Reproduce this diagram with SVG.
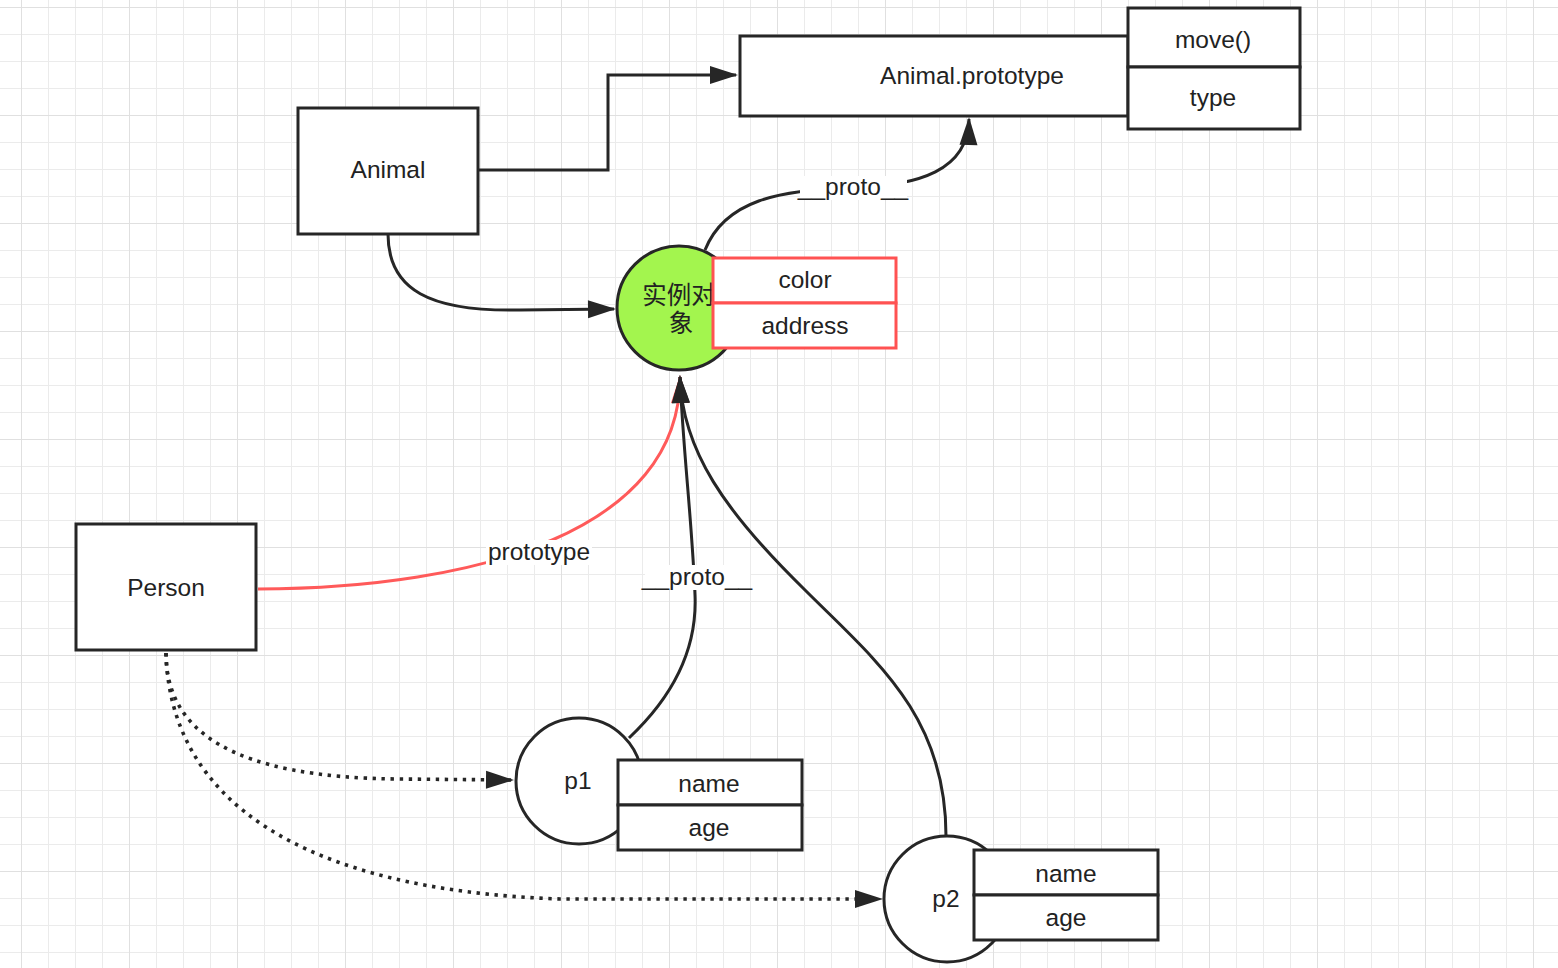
<svg xmlns="http://www.w3.org/2000/svg" width="1558" height="968" viewBox="0 0 1558 968">
<style>
.box{fill:#fff;stroke:#262626;stroke-width:3}
.rbox{fill:#fff;stroke:#ff5252;stroke-width:3}
.circ{fill:#fff;stroke:#262626;stroke-width:3}
.t{font-family:"Liberation Sans","Noto Sans CJK SC",sans-serif;font-size:24.5px;fill:#222;text-anchor:middle}
.e{fill:none;stroke:#262626;stroke-width:3}
.red{fill:none;stroke:#ff5a5a;stroke-width:3}
.dot{fill:none;stroke:#262626;stroke-width:3.6;stroke-dasharray:3.4 5.6}
.lbl{fill:#fff}
</style>
<defs>
<pattern id="minor" x="21" y="7" width="27" height="27" patternUnits="userSpaceOnUse">
<path d="M0,0 V27 M0,0 H27" fill="none" stroke="#ebebeb" stroke-width="2"/>
</pattern>
<pattern id="major" x="21" y="7" width="108" height="108" patternUnits="userSpaceOnUse">
<path d="M0,0 V108 M0,0 H108" fill="none" stroke="#e0e0e0" stroke-width="2"/>
</pattern>
<marker id="arr" markerUnits="userSpaceOnUse" markerWidth="30" markerHeight="20" refX="26" refY="9" orient="auto" overflow="visible">
<path d="M0,0 L28,9 L0,18 Z" fill="#262626"/>
</marker>
<marker id="arrR" markerUnits="userSpaceOnUse" markerWidth="30" markerHeight="20" refX="26" refY="9" orient="auto" overflow="visible">
<path d="M0,0 L28,9 L0,18 Z" fill="#ff5a5a"/>
</marker>
</defs>
<rect width="1558" height="968" fill="#fff"/>
<rect width="1558" height="968" fill="url(#minor)"/>
<rect width="1558" height="968" fill="url(#major)"/>

<g id="connectors">
<path class="red" d="M258,589 C480,588 680,530 680,377" marker-end="url(#arrR)"/>
<path class="e" d="M478,170 H608 V75 H736" marker-end="url(#arr)"/>
<path class="e" d="M388,234 C388,290 430,312 520,310 L614,309" marker-end="url(#arr)"/>
<path class="e" d="M705,250 C725,200 780,190 850,188 C920,186 968,170 969,119" marker-end="url(#arr)"/>
<path class="e" d="M629,738 C680,690 697,640 695,595 C692,520 683,450 680,377" marker-end="url(#arr)"/>
<path class="e" d="M946,836 C946,715 875,660 805,590 C725,512 682,450 680,377" marker-end="url(#arr)"/>
<path class="dot" d="M166,653 C166,730 230,778 400,779 L512,780" marker-end="url(#arr)"/>
<path class="dot" d="M166,653 C170,800 300,890 560,899 L881,899" marker-end="url(#arr)"/>
<rect class="lbl" x="800" y="176" width="107" height="24"/>
<text class="t" x="853" y="195">__proto__</text>
<rect class="lbl" x="486" y="540" width="106" height="25"/>
<text class="t" x="539" y="560">prototype</text>
<rect class="lbl" x="645" y="565" width="105" height="25"/>
<text class="t" x="697" y="585">__proto__</text>
</g>

<g id="animal">
<rect class="box" x="298" y="108" width="180" height="126"/>
<text class="t" x="388" y="178">Animal</text>
</g>

<g id="animal-prototype">
<rect class="box" x="740" y="36" width="388" height="80"/>
<text class="t" x="972" y="84">Animal.prototype</text>
</g>
<g id="move">
<rect class="box" x="1128" y="8" width="172" height="59"/>
<text class="t" x="1213" y="48">move()</text>
</g>
<g id="type">
<rect class="box" x="1128" y="67" width="172" height="62"/>
<text class="t" x="1213" y="106">type</text>
</g>

<g id="instance">
<circle cx="679" cy="308" r="62" fill="#a3f54e" stroke="#262626" stroke-width="3"/>
<text class="t" x="679" y="304">实例对</text>
<text class="t" x="681" y="332">象</text>
</g>
<g id="color">
<rect class="rbox" x="713" y="258" width="183" height="45"/>
<text class="t" x="805" y="288">color</text>
</g>
<g id="address">
<rect class="rbox" x="713" y="303" width="183" height="45"/>
<text class="t" x="805" y="334">address</text>
</g>

<g id="person">
<rect class="box" x="76" y="524" width="180" height="126"/>
<text class="t" x="166" y="596">Person</text>
</g>

<g id="p1">
<circle class="circ" cx="579" cy="781" r="63"/>
<text class="t" x="578" y="789">p1</text>
</g>
<g id="p1-name">
<rect class="box" x="618" y="760" width="184" height="45"/>
<text class="t" x="709" y="792">name</text>
</g>
<g id="p1-age">
<rect class="box" x="618" y="805" width="184" height="45"/>
<text class="t" x="709" y="836">age</text>
</g>

<g id="p2">
<circle class="circ" cx="947" cy="899" r="63"/>
<text class="t" x="946" y="907">p2</text>
</g>
<g id="p2-name">
<rect class="box" x="974" y="850" width="184" height="45"/>
<text class="t" x="1066" y="882">name</text>
</g>
<g id="p2-age">
<rect class="box" x="974" y="895" width="184" height="45"/>
<text class="t" x="1066" y="926">age</text>
</g>
</svg>
